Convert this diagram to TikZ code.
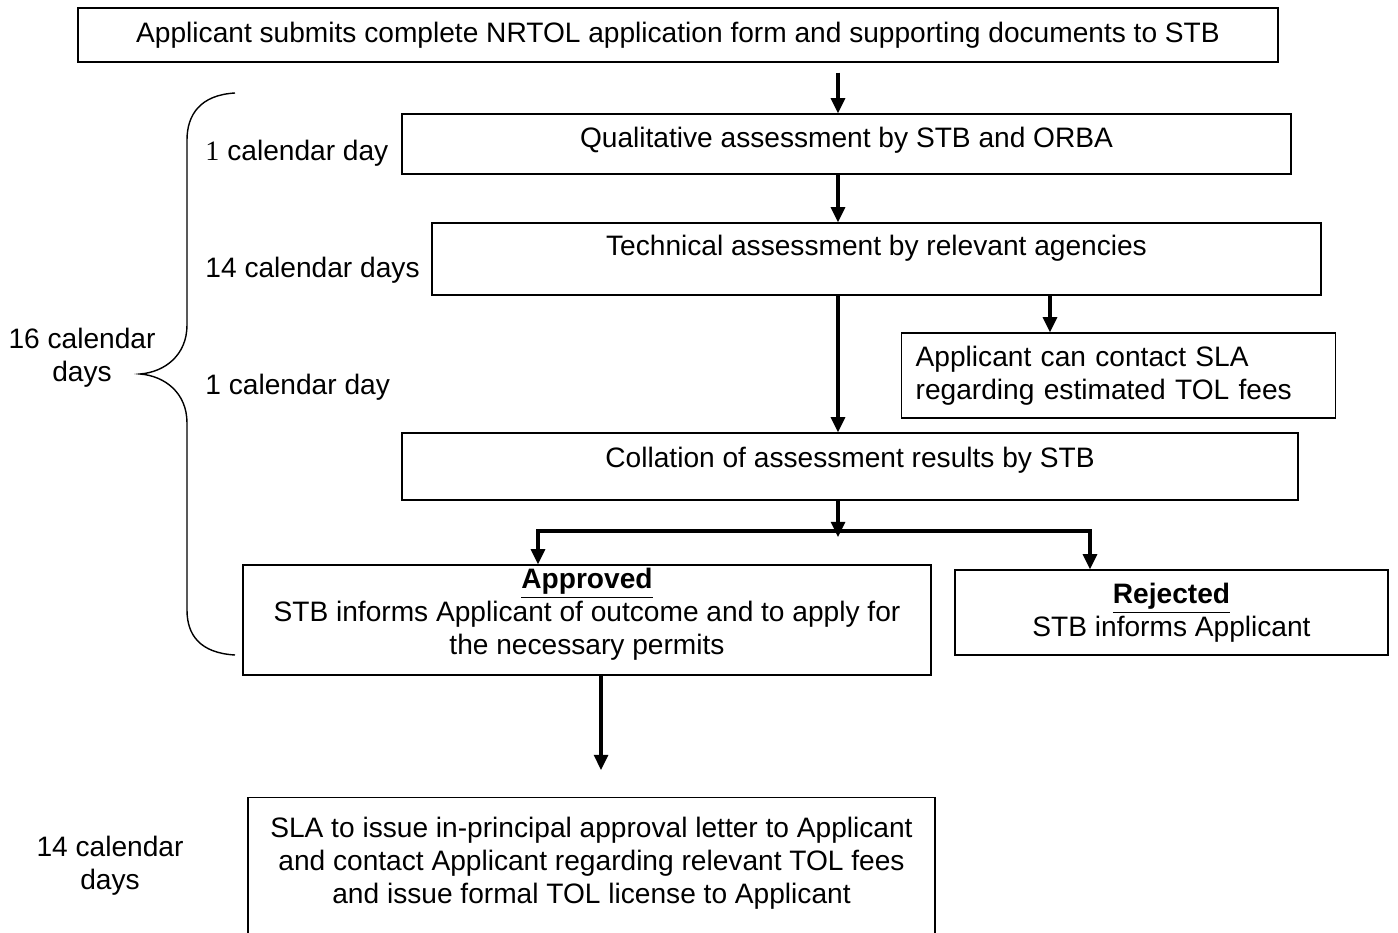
\documentclass[tikz,border=0pt]{standalone}
\usepackage{fontspec}
\setmainfont{Liberation Sans}
\newfontfamily\serifone{Liberation Serif}
\usetikzlibrary{arrows.meta}

\begin{document}
\begin{tikzpicture}[
		x=0.015cm, y=-0.015cm,
		every node/.style={font=\fontsize{12}{14.1}\selectfont},
		box/.style={draw, line width=0.6pt, inner sep=0pt},
		flow/.style={line width=1.3pt, -{Triangle[width=6pt,length=6.5pt]}},
		days/.style={anchor=west, inner sep=0pt}
		]
		
		\useasboundingbox (0,0) rectangle (1398,933);
		\clip (0,0) rectangle (1398,933);
		
		% where the arrows run
		\coordinate (spine) at (838,0);
		\coordinate (side) at (1050,0);
		\coordinate (lbranch) at (538,531);
		\coordinate (rbranch) at (1090,531);
		\coordinate (fork) at (838,531);
		\coordinate (drop) at (601,770);
		
		\node[box, minimum width=18cm, minimum height=0.81cm] (submit) at (678,35)
		{Applicant submits complete NRTOL application form and supporting documents to STB};
		\node[box, minimum width=13.335cm, text height=0.51cm, text depth=0.39cm] (qual) at (846.5,144)
		{Qualitative assessment by STB and ORBA};
		\node[box, minimum width=13.335cm, text height=0.495cm, text depth=0.585cm] (tech) at (876.5,259)
		{Technical assessment by relevant agencies};
		\node[box, anchor=west, text width=6.09cm, inner xsep=0.21cm, minimum height=1.275cm, align=left] (contact) at (901,375.5)
		{Applicant can contact SLA\\regarding estimated TOL fees};
		\node[box, minimum width=13.44cm, text height=0.51cm, text depth=0.495cm] (collate) at (850,466.5)
		{Collation of assessment results by STB};
		\node[box, minimum width=10.32cm, minimum height=1.65cm, text depth=0.27cm, align=center] (approve) at (587,620)
		{\textbf{\underline{Approved}}\\STB informs Applicant of outcome and to apply for\\the necessary permits};
		\node[box, minimum width=6.495cm, minimum height=1.275cm, align=center] (reject) at (1171.5,612.5)
		{\textbf{\underline{Rejected}}\\STB informs Applicant};
		\node[box, anchor=north, minimum width=10.305cm, inner ysep=0.285cm, text depth=0.585cm, align=center] (issue) at (591.5,797)
		{SLA to issue in-principal approval letter to Applicant\\and contact Applicant regarding relevant TOL fees\\and issue formal TOL license to Applicant};
		
		\node[days] (d1) at (205,153) {{\serifone 1} calendar day};
		\node[days] (d14) at (205,270) {14 calendar days};
		\node[days] (d1b) at (205,387) {1 calendar day};
		\node[align=center] (d16) at (82,358) {16 calendar\\days};
		\node[align=center] (dlast) at (110,866) {14 calendar\\days};
		
		\draw[line width=0.6pt] (235,93) .. controls (200,95) and (187,115) .. (187,140) -- (187,325)
		.. controls (187,355) and (165,372) .. (140,374)
		.. controls (165,376) and (187,393) .. (187,423) -- (187,610)
		.. controls (187,635) and (200,653) .. (235,655);
		
		\draw[flow, shorten <=0.15cm] (submit.south -| spine) -- (qual.north -| spine);
		\draw[flow] (qual.south -| spine) -- (tech.north -| spine);
		\draw[flow] (tech.south -| spine) -- (collate.north -| spine);
		\draw[flow] (tech.south -| side) -- (contact.north -| side);
		\draw[flow, shorten >=-0.09cm] (collate.south -| spine) -- (fork);
		\draw[flow] (rbranch) -- (lbranch) -- (approve.north -| lbranch);
		\draw[flow] (lbranch) -- (rbranch) -- (reject.north -| rbranch);
		\draw[flow] (approve.south -| drop) -- (drop);
		
	\end{tikzpicture}
\end{document}
